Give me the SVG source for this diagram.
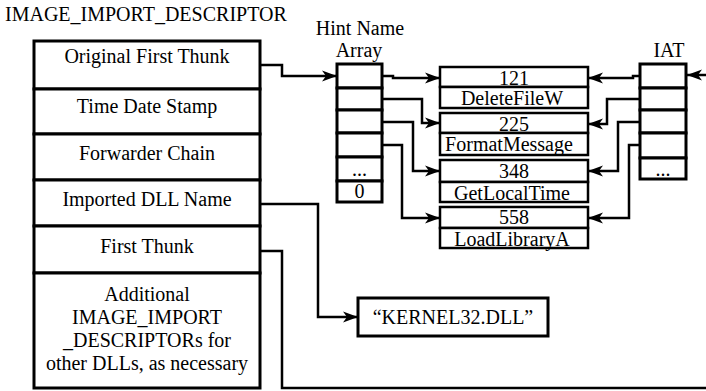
<svg xmlns="http://www.w3.org/2000/svg" width="706" height="391" viewBox="0 0 706 391">
<defs>
<marker id="ah" markerWidth="16" markerHeight="12" refX="15" refY="6" orient="auto" markerUnits="userSpaceOnUse">
<path d="M0,0.5 L15,6 L0,11.5 L4,6 Z" fill="#000"/>
</marker>
</defs>
<rect width="706" height="391" fill="#fff"/>
<g font-family="Liberation Serif" font-size="20" fill="#000">
<text x="5" y="21">IMAGE_IMPORT_DESCRIPTOR</text>

<g id="descriptor" text-anchor="middle">
<g fill="#fff" stroke="#000" stroke-width="3">
<rect x="34" y="41" width="226" height="48"/>
<rect x="34" y="89" width="226" height="45"/>
<rect x="34" y="134" width="226" height="46"/>
<rect x="34" y="180" width="226" height="46"/>
<rect x="34" y="226" width="226" height="47"/>
<rect x="34" y="273" width="226" height="115"/>
</g>
<g id="oft"><text x="147" y="63">Original First Thunk</text></g>
<g id="tds"><text x="147" y="113">Time Date Stamp</text></g>
<g id="fc"><text x="147" y="160">Forwarder Chain</text></g>
<g id="idn"><text x="147" y="206">Imported DLL Name</text></g>
<g id="ft"><text x="147" y="253">First Thunk</text></g>
<g id="add">
<text x="147" y="301">Additional</text>
<text x="147" y="324">IMAGE_IMPORT</text>
<text x="147" y="347">_DESCRIPTORs for</text>
<text x="147" y="370">other DLLs, as necessary</text></g>
</g>

<g id="hna" text-anchor="middle">
<text x="360" y="35">Hint Name</text>
<text x="359" y="57">Array</text>
<g fill="#fff" stroke="#000" stroke-width="3">
<rect x="337" y="64" width="45" height="24"/>
<rect x="337" y="88" width="45" height="22"/>
<rect x="337" y="110" width="45" height="23"/>
<rect x="337" y="133" width="45" height="24"/>
<rect x="337" y="157" width="45" height="24"/>
<rect x="337" y="181" width="45" height="21"/>
</g>
<text x="359.5" y="176">...</text>
<text x="359.5" y="198">0</text>
</g>

<g id="iat" text-anchor="middle">
<text x="669" y="57">IAT</text>
<g fill="#fff" stroke="#000" stroke-width="3">
<rect x="640" y="64" width="46" height="24"/>
<rect x="640" y="88" width="46" height="22"/>
<rect x="640" y="110" width="46" height="23"/>
<rect x="640" y="133" width="46" height="25"/>
<rect x="640" y="158" width="46" height="21"/>
</g>
<text x="663" y="176">...</text>
</g>

<g id="funcs" text-anchor="middle">
<g fill="#fff" stroke="#000" stroke-width="2.5">
<rect x="440" y="67" width="148" height="20"/>
<rect x="440" y="87" width="148" height="21"/>
<rect x="440" y="113" width="148" height="20"/>
<rect x="440" y="133" width="148" height="22"/>
<rect x="440" y="160" width="148" height="22"/>
<rect x="440" y="182" width="148" height="20"/>
<rect x="440" y="207" width="148" height="21"/>
<rect x="440" y="228" width="148" height="20"/>
</g>
<g id="f121"><text x="514" y="85">121</text><text x="512" y="105">DeleteFileW</text></g>
<g id="f225"><text x="514" y="131">225</text><text x="509" y="151">FormatMessage</text></g>
<g id="f348"><text x="514" y="178">348</text><text x="512" y="200">GetLocalTime</text></g>
<g id="f558"><text x="514" y="224">558</text><text x="512" y="246">LoadLibraryA</text></g>
</g>

<g id="kernel" text-anchor="middle"><rect x="358" y="298" width="190" height="38" fill="#fff" stroke="#000" stroke-width="3"/><text x="453" y="324">“KERNEL32.DLL”</text></g>
</g>

<g id="connectors" fill="none" stroke="#000" stroke-width="2.5">
<path d="M260,65 H282 V76 H337" marker-end="url(#ah)"/>
<path d="M382,76 H393 V78 H440" marker-end="url(#ah)"/>
<path d="M382,99 H422 V123 H440" marker-end="url(#ah)"/>
<path d="M382,122 H413 V171 H440" marker-end="url(#ah)"/>
<path d="M382,145 H402 V218 H440" marker-end="url(#ah)"/>
<path d="M640,76 H633 V78 H588" marker-end="url(#ah)"/>
<path d="M640,99 H607 V124 H588" marker-end="url(#ah)"/>
<path d="M640,122 H618 V171 H588" marker-end="url(#ah)"/>
<path d="M640,145 H629 V218 H588" marker-end="url(#ah)"/>
<path d="M706,75 H687" marker-end="url(#ah)"/>
<path d="M260,204 H318 V317 H358" marker-end="url(#ah)"/>
<path d="M260,251 H282 V388 H706"/>
</g>
</svg>
